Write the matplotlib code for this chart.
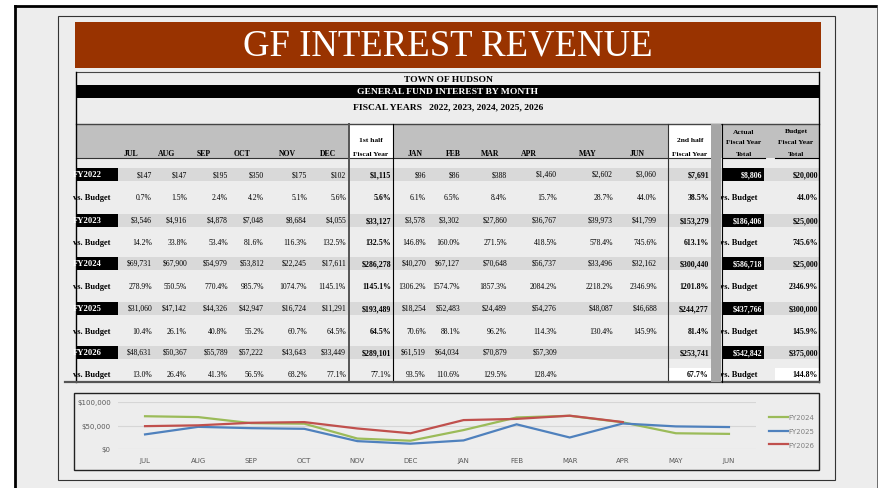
import matplotlib
matplotlib.use("Agg")
import matplotlib.pyplot as plt
from matplotlib.patches import Rectangle
from matplotlib.transforms import Bbox, TransformedBbox

# data
months_h1 = ["JUL", "AUG", "SEP", "OCT", "NOV", "DEC"]
months_h2 = ["JAN", "FEB", "MAR", "APR", "MAY", "JUN"]
years = ["FY2022", "FY2023", "FY2024", "FY2025", "FY2026"]

rev_2022 = [147, 147, 195, 350, 175, 102, 96, 86, 388, 1460, 2602, 3060]
rev_2023 = [3546, 4916, 4878, 7048, 8684, 4055, 3578, 3302, 27860, 36767, 39973, 41799]
rev_2024 = [69731, 67900, 54979, 53812, 22245, 17611, 40270, 67127, 70648, 56737, 33496, 32162]
rev_2025 = [31060, 47142, 44326, 42947, 16724, 11291, 18254, 52483, 24489, 54276, 48087, 46688]
rev_2026 = [48631, 50367, 55789, 57222, 43643, 33449, 61519, 64034, 70879, 57309]

pct_2022 = [0.7, 1.5, 2.4, 4.2, 5.1, 5.6, 6.1, 6.5, 8.4, 15.7, 28.7, 44.0]
pct_2023 = [14.2, 33.8, 53.4, 81.6, 116.3, 132.5, 146.8, 160.0, 271.5, 418.5, 578.4, 745.6]
pct_2024 = [278.9, 550.5, 770.4, 985.7, 1074.7, 1145.1, 1306.2, 1574.7, 1857.3, 2084.2, 2218.2, 2346.9]
pct_2025 = [10.4, 26.1, 40.8, 55.2, 60.7, 64.5, 70.6, 88.1, 96.2, 114.3, 130.4, 145.9]
pct_2026 = [13.0, 26.4, 41.3, 56.5, 68.2, 77.1, 93.5, 110.6, 129.5, 128.4]

half1 = [1115, 33127, 286278, 193489, 289101]
half2 = [7691, 153279, 300440, 244277, 253741]
half1_pct = [5.6, 132.5, 1145.1, 64.5, 77.1]
half2_pct = [38.5, 613.1, 1201.8, 81.4, 67.7]
actual_total = [8806, 186406, 586718, 437766, 542842]
budget_total = [20000, 25000, 25000, 300000, 375000]
budget_pct = [44.0, 745.6, 2346.9, 145.9, 144.8]

revenue = [rev_2022, rev_2023, rev_2024, rev_2025, rev_2026]
percent = [pct_2022, pct_2023, pct_2024, pct_2025, pct_2026]

chart_years = ["FY2024", "FY2025", "FY2026"]
chart_colors = ["#9bbb59", "#4f81bd", "#c0504d"]

W, H = 879, 489
fig = plt.figure(figsize=(W / 100, H / 100), dpi=100)
fig.patch.set_facecolor("white")
ax = fig.add_axes([0, 0, 1, 1])
ax.set_xlim(0, W)
ax.set_ylim(H, 0)
ax.axis("off")

serif = "Liberation Serif"

# slide background + frames
ax.add_patch(Rectangle((15, 7), 863, 490, facecolor="#ededed", edgecolor="none"))
ax.plot([15, 15], [7, 489], color="black", lw=2)
ax.plot([15, 878], [7, 7], color="black", lw=2)
ax.plot([878, 878], [7, 489], color="#555555", lw=1.2)
ax.add_patch(Rectangle((58, 17), 777, 464, facecolor="none", edgecolor="#333333", lw=0.8))

# title bar
ax.add_patch(Rectangle((75, 23), 746, 46, facecolor="#993300", edgecolor="none"))
ax.text(448, 56, "GF INTEREST REVENUE", color="white", fontsize=26.5, family=serif,
        ha="center", va="baseline")

# table header texts
ax.plot([76, 819], [73, 73], color="#444444", lw=0.8)
ax.text(448, 80, "TOWN OF HUDSON", fontsize=6.8, family=serif, weight="bold", ha="center", va="center")
ax.add_patch(Rectangle((76, 86), 743, 13, facecolor="black", edgecolor="none"))
ax.text(448, 92.5, "GENERAL FUND INTEREST BY MONTH", fontsize=6.8, family=serif, weight="bold",
        color="white", ha="center", va="center")
ax.text(448, 107, "FISCAL YEARS   2022, 2023, 2024, 2025, 2026", fontsize=6.8, family=serif,
        weight="bold", ha="center", va="center")

# header band
ax.add_patch(Rectangle((76, 125), 743, 34, facecolor="#c0c0c0", edgecolor="none"))
ax.add_patch(Rectangle((349, 125), 44, 34, facecolor="white", edgecolor="none"))
ax.add_patch(Rectangle((668, 125), 43, 34, facecolor="white", edgecolor="none"))
ax.plot([76, 819], [125, 125], color="#444444", lw=1)
ax.plot([76, 711], [159, 159], color="#333333", lw=0.8)
ax.plot([723, 765], [159, 159], color="black", lw=0.8)
ax.plot([775, 818], [159, 159], color="black", lw=0.8)

h1_x = [131, 167, 204, 242, 287, 328]
h2_x = [415, 453, 490, 529, 588, 637]
for lab, x in zip(months_h1 + months_h2, h1_x + h2_x):
    ax.text(x, 154, lab, fontsize=5.6, family=serif, weight="bold", ha="center", va="center")
hdr = dict(fontsize=5.4, family=serif, weight="bold", ha="center", va="center")
ax.text(371, 141, "1st half", **hdr)
ax.text(371, 154, "Fiscal Year", **hdr)
ax.text(690, 141, "2nd half", **hdr)
ax.text(690, 154, "Fiscal Year", **hdr)
ax.text(744, 132, "Actual", **hdr)
ax.text(744, 143, "Fiscal Year", **hdr)
ax.text(744, 154, "Total", **hdr)
ax.text(796, 132, "Budget", **hdr)
ax.text(796, 143, "Fiscal Year", **hdr)
ax.text(796, 154, "Total", **hdr)

# rows
row_y = [175, 198, 221, 243, 264, 287, 309, 332, 353, 375]
col_right = [152, 187, 228, 264, 307, 346, 426, 460, 507, 557, 613, 657]
clip = TransformedBbox(Bbox.from_extents(77 / W, 0, 1, 1), fig.transFigure)

for i, yr in enumerate(years):
    yv = row_y[2 * i]
    yp = row_y[2 * i + 1]
    last = i == len(years) - 1
    ax.add_patch(Rectangle((76, yv - 6.5), 743, 13, facecolor="#d9d9d9", edgecolor="none"))
    ax.add_patch(Rectangle((76, yv - 6.5), 42, 13, facecolor="black", edgecolor="none"))
    ax.add_patch(Rectangle((723, yv - 6.5), 41, 13, facecolor="black", edgecolor="none"))
    t = ax.text(102, yv, yr, color="white", fontsize=6.2, family=serif, weight="bold",
                ha="right", va="center")
    t.set_clip_box(clip)
    t = ax.text(110, yp, "vs. Budget", fontsize=6.0, family=serif, weight="bold",
                ha="right", va="center")
    t.set_clip_box(clip)
    ax.text(757, yp, "vs. Budget", fontsize=6.0, family=serif, weight="bold", ha="right", va="center")

    for v, p, x in zip(revenue[i], percent[i], col_right):
        ax.text(x, yv, f"${v:,}", fontsize=5.5, family=serif, ha="right", va="center")
        ax.text(x, yp, f"{p:.1f}%", fontsize=5.5, family=serif, ha="right", va="center")

    b = dict(fontsize=5.7, family=serif, weight="bold", ha="right", va="center")
    ax.text(391, yv, f"${half1[i]:,}", **b)
    ax.text(391, yp, f"{half1_pct[i]:.1f}%", fontsize=5.7, family=serif,
            weight="normal" if last else "bold", ha="right", va="center")
    ax.text(709, yv, f"${half2[i]:,}", **b)
    ax.text(762, yv, f"${actual_total[i]:,}", color="white", **b)
    ax.text(818, yv, f"${budget_total[i]:,}", **b)
    if last:
        ax.add_patch(Rectangle((668, yp - 6), 43, 12, facecolor="white", edgecolor="none"))
        ax.add_patch(Rectangle((775, yp - 6), 44, 12, facecolor="white", edgecolor="none"))
    ax.text(709, yp, f"{half2_pct[i]:.1f}%", **b)
    ax.text(818, yp, f"{budget_pct[i]:.1f}%", **b)

# vertical rules
ax.plot([349, 349], [125, 383], color="#555555", lw=1.4)
ax.plot([393, 393], [125, 383], color="black", lw=0.8)
ax.plot([668, 668], [125, 383], color="#333333", lw=0.8)
ax.add_patch(Rectangle((711, 125), 10, 258, facecolor="#a6a6a6", edgecolor="none", zorder=5))
ax.plot([722, 722], [125, 383], color="black", lw=0.8, zorder=6)
ax.plot([76, 76], [73, 383], color="black", lw=1)
ax.plot([819, 819], [73, 383], color="black", lw=1)
ax.plot([65, 819], [382.5, 382.5], color="#555555", lw=1.6)

# chart box
ax.add_patch(Rectangle((74, 394), 745, 77, facecolor="#ededed", edgecolor="#222222", lw=1))

cx = fig.add_axes([118.5 / W, 1 - 450 / H, 637 / W, 47 / H])
cx.patch.set_alpha(0)
all_months = months_h1 + months_h2
for yr, col in zip(chart_years, chart_colors):
    vals = revenue[years.index(yr)]
    cx.plot(range(len(vals)), vals, color=col, lw=1.6, label=yr, solid_joinstyle="miter")
cx.set_xlim(-0.5, 11.5)
cx.set_ylim(0, 100000)
cx.set_yticks([0, 50000, 100000])
cx.set_yticklabels(["$0", "$50,000", "$100,000"])
cx.set_xticks(range(12))
cx.set_xticklabels(all_months)
cx.grid(axis="y", color="#d6d6d6", lw=0.8)
cx.set_axisbelow(True)
for s in cx.spines.values():
    s.set_visible(False)
cx.tick_params(length=0, labelsize=5.0, colors="#595959", pad=5.5)
cx.tick_params(axis="x", pad=6)
leg = cx.legend(loc="center left", bbox_to_anchor=(766 / W, 1 - 432 / H),
                bbox_transform=fig.transFigure, frameon=False, fontsize=5.0,
                handlelength=2.6, handletextpad=0.1, labelspacing=1.1, borderpad=0)
for t in leg.get_texts():
    t.set_color("#7f7f7f")

fig.savefig("out.png", dpi=100)
